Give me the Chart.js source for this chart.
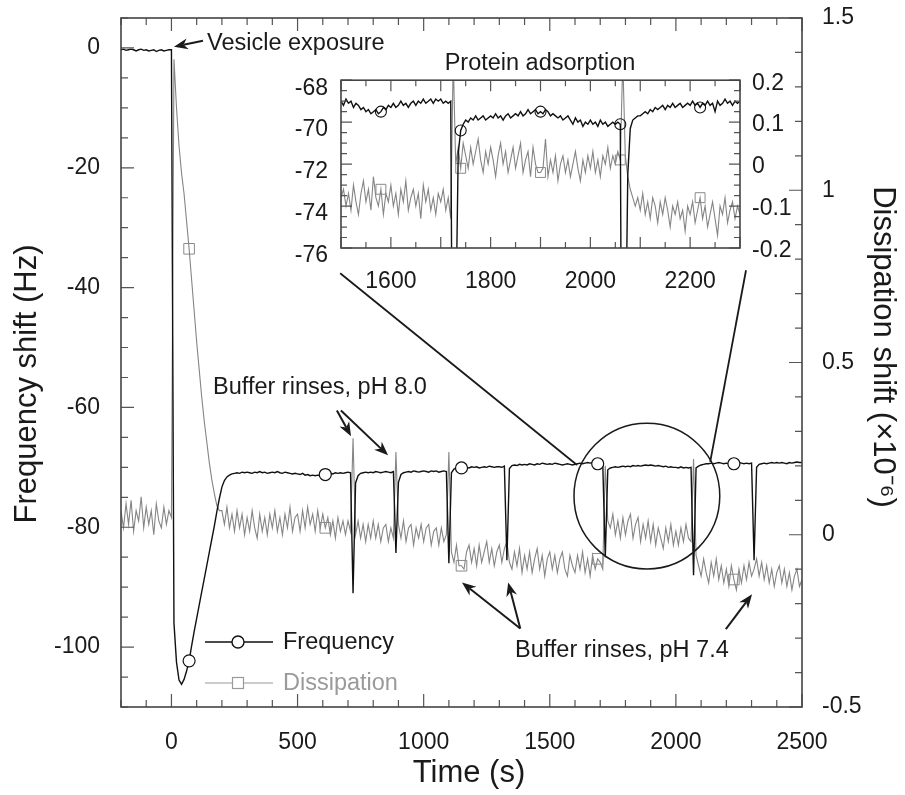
<!DOCTYPE html>
<html>
<head>
<meta charset="utf-8">
<title>QCM-D record</title>
<script src="https://cdn.jsdelivr.net/npm/chart.js@4.4.1/dist/chart.umd.min.js"></script>
<style>
  html, body { margin: 0; padding: 0; background: #fff; }
  #wrap { position: relative; width: 905px; height: 795px; }
  #mainChart { position: absolute; left: 0; top: 0; }
  #insetChart { position: absolute; left: 280px; top: 45px; }
</style>
</head>
<body>
<div id="wrap">
  <canvas id="mainChart" width="905" height="795"></canvas>
  <canvas id="insetChart" width="520" height="260"></canvas>
</div>
<script>
// sampling of the record (s)
var mainStart = -200, mainStep = 10;
var insetStart = 1500, insetStep = 5;

// frequency shift (Hz), one value every 10 s from -200 s
var mainFreq = [
  -0.3,-0.2,-0.4,-0.3,-0.2,-0.3,-0.5,-0.3,-0.2,-0.4,
  -0.3,-0.5,-0.4,-0.3,-0.6,-0.4,-0.3,-0.5,-0.4,-0.3,
  -0.3,-96,-102.5,-105.5,-106.2,-105.4,-104,-102.3,-99.8,-97.4,
  -95.2,-93,-90.8,-88.6,-86.4,-84.2,-82,-79.8,-77.4,-75.2,
  -73.3,-72.2,-71.6,-71.3,-71.1,-71.0,-70.9,-71.0,-70.8,-70.9,
  -70.8,-70.9,-71.0,-70.8,-70.9,-70.7,-70.9,-70.8,-71.0,-70.9,
  -70.8,-70.9,-70.7,-70.9,-71.0,-70.8,-70.9,-71.0,-71.1,-71.0,
  -71.1,-71.2,-71.0,-71.3,-71.2,-71.4,-71.3,-71.4,-71.3,-71.4,
  -71.3,-71.2,-71.1,-71.0,-71.1,-70.9,-71.0,-70.9,-71.0,-70.9,
  -70.8,-70.9,-91,-72.6,-71.4,-71.0,-70.9,-70.8,-70.9,-70.8,
  -70.9,-70.7,-70.8,-70.9,-70.8,-70.7,-70.8,-70.9,-70.7,-84.3,
  -72.5,-71.2,-70.9,-70.8,-70.7,-70.8,-70.6,-70.7,-70.8,-70.7,
  -70.6,-70.7,-70.8,-70.6,-70.7,-70.6,-70.8,-70.7,-70.6,-70.7,
  -86,-70.9,-70.3,-70.1,-70.0,-70.1,-69.9,-70.0,-70.1,-69.9,
  -70.0,-69.9,-70.1,-70.0,-69.9,-70.0,-69.8,-69.9,-70.0,-69.9,
  -69.9,-70.0,-69.8,-85.5,-70.2,-69.7,-69.6,-69.7,-69.5,-69.6,
  -69.5,-69.6,-69.4,-69.5,-69.6,-69.4,-69.5,-69.3,-69.4,-69.5,
  -69.4,-69.5,-69.3,-69.4,-69.5,-69.6,-69.5,-69.4,-69.5,-69.6,
  -69.5,-69.4,-69.3,-69.4,-69.3,-69.2,-69.3,-69.2,-69.3,-69.4,
  -69.2,-69.3,-85,-70.4,-70.1,-70.0,-69.9,-70.0,-69.9,-69.8,
  -69.9,-69.8,-69.9,-69.7,-69.8,-69.7,-69.8,-69.7,-69.6,-69.7,
  -69.6,-69.7,-69.8,-69.7,-69.8,-69.9,-69.8,-70.0,-69.9,-70.0,
  -70.0,-70.1,-69.9,-70.1,-70.0,-70.1,-70.0,-88,-70.1,-69.8,
  -69.6,-69.5,-69.4,-69.4,-69.3,-69.4,-69.3,-69.2,-69.3,-69.4,
  -69.3,-69.4,-69.3,-69.4,-69.3,-69.2,-69.3,-69.4,-69.3,-69.4,
  -69.3,-85.5,-70.0,-69.5,-69.4,-69.3,-69.4,-69.3,-69.2,-69.3,
  -69.2,-69.3,-69.2,-69.3,-69.4,-69.2,-69.3,-69.2,-69.1,-69.2,-69.2
];

// dissipation shift (x1e-6), same sampling
var mainDiss = [
  0.07,0.02,0.09,0.03,0.10,0.01,0.07,0.04,0.11,0.02,
  0.08,0.03,0.07,0.00,0.09,0.04,0.02,0.08,0.03,0.07,
  0.05,1.38,1.24,1.13,1.05,0.99,0.91,0.83,0.74,0.65,
  0.56,0.48,0.40,0.33,0.27,0.21,0.16,0.12,0.085,0.07,
  0.07,0.03,0.08,0.02,0.06,0.01,0.07,0.02,0.06,0.00,
  0.05,0.01,0.07,0.02,-0.01,0.06,0.01,0.05,0.00,0.06,
  0.02,0.07,0.01,0.05,0.00,0.06,0.02,0.08,0.01,0.05,
  0.06,0.01,0.07,0.02,0.08,0.03,0.06,0.01,0.07,0.02,
  0.06,0.02,0.05,0.00,0.04,-0.01,0.05,0.01,0.04,0.00,
  0.04,0.01,0.28,0.00,0.04,-0.01,0.03,-0.02,0.03,-0.01,
  0.04,-0.01,0.03,-0.02,0.02,0.03,-0.02,0.02,-0.01,0.24,
  0.03,-0.01,0.04,-0.02,0.02,0.03,-0.03,0.02,-0.01,0.03,
  -0.02,0.02,0.03,-0.03,0.01,0.02,-0.03,0.02,-0.02,0.00,
  0.24,-0.05,-0.08,-0.03,-0.09,-0.09,-0.10,-0.05,-0.03,-0.08,
  -0.04,-0.09,-0.03,-0.08,-0.05,-0.02,-0.08,-0.04,-0.09,-0.05,
  -0.03,-0.08,-0.04,-0.02,-0.08,-0.10,-0.05,-0.09,-0.04,-0.11,
  -0.06,-0.10,-0.05,-0.11,-0.07,-0.04,-0.10,-0.06,-0.12,-0.07,
  -0.05,-0.10,-0.06,-0.11,-0.07,-0.05,-0.10,-0.12,-0.06,-0.09,
  -0.11,-0.06,-0.10,-0.05,-0.11,-0.07,-0.12,-0.06,-0.10,-0.07,
  -0.08,-0.10,0.20,0.04,0.02,0.06,0.00,0.04,-0.01,0.05,
  0.00,0.04,0.06,-0.01,0.03,0.05,-0.02,0.03,-0.01,0.04,
  -0.02,0.03,-0.03,0.02,-0.01,-0.04,0.02,-0.02,0.03,-0.03,
  0.01,-0.03,0.02,-0.02,0.03,-0.01,-0.02,0.22,-0.06,-0.09,
  -0.12,-0.07,-0.11,-0.14,-0.08,-0.12,-0.07,-0.13,-0.09,-0.14,
  -0.10,-0.15,-0.09,-0.13,-0.16,-0.10,-0.14,-0.09,-0.13,-0.08,
  -0.12,-0.10,-0.07,-0.12,-0.08,-0.13,-0.09,-0.14,-0.10,-0.15,
  -0.11,-0.09,-0.14,-0.10,-0.15,-0.11,-0.16,-0.12,-0.10,-0.15,-0.13
];

// inset, one value every 5 s from 1500 s
var insetFreq = [
  -69.0,-69.2,-68.9,-69.1,-69.0,-69.3,-69.1,-69.2,-69.4,-69.3,
  -69.5,-69.4,-69.6,-69.5,-69.4,-69.6,-69.5,-69.3,-69.4,-69.2,
  -69.3,-69.1,-69.3,-69.2,-69.0,-69.2,-69.1,-69.3,-69.1,-69.0,
  -69.2,-69.0,-69.1,-68.9,-69.1,-69.0,-68.9,-69.1,-68.9,-69.0,
  -68.9,-69.1,-69.0,-69.1,-69.0,-90,-80,-71.5,-70.4,-70.1,
  -69.9,-70.0,-69.8,-69.9,-69.7,-69.9,-69.8,-69.7,-69.9,-69.8,
  -69.7,-69.8,-69.6,-69.8,-69.7,-69.9,-69.7,-69.6,-69.8,-69.7,
  -69.6,-69.7,-69.5,-69.7,-69.6,-69.4,-69.6,-69.5,-69.4,-69.6,
  -69.5,-69.6,-69.4,-69.5,-69.7,-69.6,-69.7,-69.8,-69.7,-69.9,
  -69.8,-69.7,-69.9,-70.1,-69.8,-70.0,-69.9,-70.2,-70.0,-70.1,
  -69.9,-70.1,-70.0,-70.2,-69.9,-70.1,-70.0,-70.2,-70.1,-70.0,
  -70.1,-70.0,-70.1,-95,-82,-72.5,-70.3,-69.9,-69.8,-69.7,
  -69.7,-69.6,-69.5,-69.6,-69.4,-69.5,-69.3,-69.4,-69.3,-69.2,
  -69.4,-69.2,-69.3,-69.1,-69.3,-69.2,-69.1,-69.3,-69.2,-69.1,
  -69.2,-69.0,-69.2,-69.1,-69.3,-69.1,-69.2,-69.0,-69.2,-69.1,
  -69.5,-69.0,-69.2,-69.1,-68.9,-69.1,-69.0,-69.2,-69.0,-69.1,
  -69.0
];

var insetDiss = [
  -0.08,-0.06,-0.10,-0.07,-0.11,-0.05,-0.09,-0.12,-0.07,-0.04,
  -0.09,-0.06,-0.11,-0.03,-0.08,-0.10,-0.06,-0.12,-0.07,-0.09,
  -0.05,-0.10,-0.07,-0.12,-0.06,-0.09,-0.04,-0.11,-0.08,-0.06,
  -0.10,-0.07,-0.13,-0.05,-0.09,-0.06,-0.11,-0.08,-0.12,-0.07,
  -0.09,-0.06,-0.11,-0.08,-0.13,0.25,0.00,0.04,-0.01,0.05,
  0.02,-0.01,0.04,0.00,0.03,0.06,0.01,-0.02,0.03,0.00,
  0.04,0.01,-0.03,0.02,0.05,0.00,0.03,-0.02,0.01,0.04,
  -0.01,0.02,0.05,-0.02,0.01,0.03,-0.03,0.04,0.00,-0.02,
  -0.02,-0.01,0.06,-0.03,0.01,-0.02,0.02,-0.04,0.00,0.02,
  -0.02,0.01,-0.03,0.00,0.03,-0.01,-0.04,0.01,-0.02,0.02,
  -0.01,0.03,-0.02,0.01,-0.03,0.02,0.00,0.04,-0.01,0.02,
  0.00,0.03,0.01,0.25,0.02,-0.03,-0.06,-0.08,-0.10,-0.08,
  -0.11,-0.07,-0.12,-0.09,-0.13,-0.08,-0.10,-0.14,-0.09,-0.12,
  -0.08,-0.11,-0.15,-0.10,-0.12,-0.09,-0.13,-0.11,-0.16,-0.10,
  -0.12,-0.09,-0.14,-0.11,-0.08,-0.13,-0.10,-0.15,-0.12,-0.09,
  -0.13,-0.17,-0.10,-0.12,-0.08,-0.14,-0.11,-0.09,-0.13,-0.10,
  -0.12
];

// samples that carry a symbol
var mainMarkers = [27, 81, 135, 189, 243];
var insetMarkers = [16, 48, 80, 112, 144];

// tick labels
var timeTicks = [0, 500, 1000, 1500, 2000, 2500];
var freqTicks = [-100, -80, -60, -40, -20, 0];
var dissTicks = [-0.5, 0, 0.5, 1, 1.5];
var insetTimeTicks = [1600, 1800, 2000, 2200];
var insetFreqTicks = [-76, -74, -72, -70, -68];
var insetDissTicks = [-0.2, -0.1, 0, 0.1, 0.2];

var FONT = "'Liberation Sans', Arial, Helvetica, sans-serif";
var INK = '#1a1a1a';
var FREQ_COLOR = '#111111';
var DISS_COLOR = '#858585';

function points(values, start, step) {
  return values.map(function (v, i) { return { x: start + i * step, y: v }; });
}

function fixedTicks(list) {
  return function (scale) {
    scale.ticks = list.map(function (v) { return { value: v }; });
  };
}

function axisOpts(o) {
  return {
    type: 'linear',
    position: o.position,
    min: o.min,
    max: o.max,
    grid: { display: false, drawTicks: false },
    border: { display: false },
    afterBuildTicks: fixedTicks(o.ticks),
    afterFit: function (s) {
      if (o.width) s.width = o.width;
      if (o.height) s.height = o.height;
      // fixed layout: no extra room for overhanging labels
      s.paddingTop = s.paddingBottom = s.paddingLeft = s.paddingRight = 0;
    },
    ticks: {
      padding: o.padding,
      labelOffset: o.labelOffset || 0,
      color: INK,
      autoSkip: false,
      maxRotation: 0,
      font: { family: FONT, size: 23 },
      callback: function (v) { return String(v); }
    }
  };
}

// frame plus inward tick marks on all four sides
function frameAndTicks(chart, spec, major, minor) {
  var ctx = chart.ctx, a = chart.chartArea, sc = chart.scales;
  ctx.save();
  ctx.strokeStyle = '#555';
  ctx.lineWidth = 1.2;
  ctx.beginPath();
  function each(scale, step, big, draw) {
    var k0 = Math.ceil(scale.min / step - 1e-9);
    for (var k = k0; k * step <= scale.max + 1e-9; k++) {
      var v = k * step;
      var isBig = Math.abs(v / big - Math.round(v / big)) < 1e-6;
      draw(scale.getPixelForValue(v), isBig ? major : minor);
    }
  }
  each(sc.x, spec.x[0], spec.x[1], function (p, l) {
    ctx.moveTo(p, a.bottom); ctx.lineTo(p, a.bottom - l);
    ctx.moveTo(p, a.top); ctx.lineTo(p, a.top + l);
  });
  each(sc.y, spec.y[0], spec.y[1], function (p, l) {
    ctx.moveTo(a.left, p); ctx.lineTo(a.left + l, p);
  });
  each(sc.y1, spec.y1[0], spec.y1[1], function (p, l) {
    ctx.moveTo(a.right, p); ctx.lineTo(a.right - l, p);
  });
  ctx.stroke();
  ctx.strokeStyle = '#444';
  ctx.lineWidth = 1.6;
  ctx.strokeRect(a.left, a.top, a.right - a.left, a.bottom - a.top);
  ctx.restore();
}

function arrow(ctx, x0, y0, x1, y1) {
  var ang = Math.atan2(y1 - y0, x1 - x0), L = 14, W = 5.5;
  var c = Math.cos(ang), s = Math.sin(ang);
  ctx.beginPath();
  ctx.moveTo(x0, y0);
  ctx.lineTo(x1 - c * L * 0.7, y1 - s * L * 0.7);
  ctx.stroke();
  ctx.beginPath();
  ctx.moveTo(x1, y1);
  ctx.lineTo(x1 - L * c + W * s, y1 - L * s - W * c);
  ctx.lineTo(x1 - L * 0.7 * c, y1 - L * 0.7 * s);
  ctx.lineTo(x1 - L * c - W * s, y1 - L * s + W * c);
  ctx.closePath();
  ctx.fill();
}

// annotation anchors in data units (time s, frequency Hz)
var notes = {
  texts: [
    { text: 'Vesicle exposure', t: 141, f: 0.8 },
    { text: 'Buffer rinses, pH 8.0', t: 165, f: -56.6 },
    { text: 'Buffer rinses, pH 7.4', t: 1362, f: -100.5 }
  ],
  arrows: [
    [125, 1.2, 10, 0.2],
    [656, -60.5, 712, -64.8],
    [672, -60.5, 859, -68],
    [1383, -96.9, 1152, -89.2],
    [1383, -96.9, 1335, -89.2],
    [2198, -97.0, 2302, -91.2]
  ],
  circle: { t: 1885, f: -74.8, rt: 289 },
  links: [
    [669, -37.6, 1608, -69.6],
    [2278, -37.1, 2136, -69.1]
  ]
};

var mainDecor = {
  id: 'mainDecor',
  afterDraw: function (chart) {
    var ctx = chart.ctx, x = chart.scales.x, y = chart.scales.y;
    frameAndTicks(chart, { x: [100, 500], y: [5, 20], y1: [0.1, 0.5] }, 13, 7);

    ctx.save();
    ctx.fillStyle = INK;
    ctx.strokeStyle = INK;

    // axis titles
    ctx.font = '31px ' + FONT;
    ctx.textAlign = 'center';
    ctx.textBaseline = 'middle';
    ctx.fillText('Time (s)', 469, 773);
    ctx.save();
    ctx.translate(27, 384);
    ctx.rotate(-Math.PI / 2);
    ctx.fillText('Frequency shift (Hz)', 0, 0);
    ctx.restore();
    ctx.save();
    ctx.translate(883, 347);
    ctx.rotate(Math.PI / 2);
    ctx.fillText('Dissipation shift (\u00d710\u207b\u2076)', 0, 0);
    ctx.restore();

    // annotation texts and arrows
    ctx.font = '23.5px ' + FONT;
    ctx.textAlign = 'left';
    notes.texts.forEach(function (n) {
      ctx.fillText(n.text, x.getPixelForValue(n.t), y.getPixelForValue(n.f));
    });
    ctx.lineWidth = 2;
    notes.arrows.forEach(function (r) {
      arrow(ctx, x.getPixelForValue(r[0]), y.getPixelForValue(r[1]),
        x.getPixelForValue(r[2]), y.getPixelForValue(r[3]));
    });

    // highlighted region and its links to the inset
    var c = notes.circle;
    var cx = x.getPixelForValue(c.t), cy = y.getPixelForValue(c.f);
    var rad = x.getPixelForValue(c.t + c.rt) - cx;
    ctx.lineWidth = 1.5;
    ctx.beginPath();
    ctx.arc(cx, cy, rad, 0, Math.PI * 2);
    ctx.stroke();
    ctx.lineWidth = 1.8;
    notes.links.forEach(function (r) {
      ctx.beginPath();
      ctx.moveTo(x.getPixelForValue(r[0]), y.getPixelForValue(r[1]));
      ctx.lineTo(x.getPixelForValue(r[2]), y.getPixelForValue(r[3]));
      ctx.stroke();
    });

    // legend
    var ds = chart.data.datasets;
    ctx.font = '23.5px ' + FONT;
    ctx.textBaseline = 'middle';
    ctx.lineWidth = 1.4;
    ctx.strokeStyle = FREQ_COLOR;
    ctx.beginPath(); ctx.moveTo(205, 642); ctx.lineTo(232, 642); ctx.moveTo(244, 642); ctx.lineTo(273, 642); ctx.stroke();
    ctx.beginPath(); ctx.arc(238, 642, 6, 0, Math.PI * 2); ctx.stroke();
    ctx.fillStyle = INK;
    ctx.fillText(ds[0].label, 283, 643);
    ctx.strokeStyle = '#9a9a9a';
    ctx.lineWidth = 1.2;
    ctx.beginPath(); ctx.moveTo(205, 683); ctx.lineTo(232, 683); ctx.moveTo(244, 683); ctx.lineTo(273, 683); ctx.stroke();
    ctx.strokeRect(232.5, 677.5, 11, 11);
    ctx.fillStyle = '#9a9a9a';
    ctx.fillText(ds[1].label, 283, 684);
    ctx.restore();
  }
};

var insetDecor = {
  id: 'insetDecor',
  afterDraw: function (chart) {
    frameAndTicks(chart, { x: [50, 100], y: [0.5, 2], y1: [0.025, 0.1] }, 11, 6);
  }
};

function markerRadius(list, r) {
  return function (ctx) { return list.indexOf(ctx.dataIndex) >= 0 ? r : 0; };
}

var mainChart = new Chart(document.getElementById('mainChart').getContext('2d'), {
  type: 'line',
  data: {
    datasets: [{
      label: 'Frequency',
      data: points(mainFreq, mainStart, mainStep),
      yAxisID: 'y',
      borderColor: FREQ_COLOR,
      borderWidth: 1.4,
      pointStyle: 'circle',
      pointRadius: markerRadius(mainMarkers, 6),
      pointBorderColor: FREQ_COLOR,
      pointBackgroundColor: '#fff',
      pointBorderWidth: 1.2
    }, {
      label: 'Dissipation',
      data: points(mainDiss, mainStart, mainStep),
      yAxisID: 'y1',
      borderColor: DISS_COLOR,
      borderWidth: 1.1,
      pointStyle: 'rect',
      pointRadius: markerRadius(mainMarkers, 7.5),
      pointBorderColor: '#8a8a8a',
      pointBackgroundColor: 'rgba(255,255,255,0)',
      pointBorderWidth: 1
    }]
  },
  options: {
    responsive: false,
    animation: false,
    events: [],
    layout: { padding: { top: 18, left: 0, right: 0, bottom: 0 } },
    plugins: { legend: { display: false }, tooltip: { enabled: false } },
    scales: {
      x: axisOpts({ position: 'bottom', min: -200, max: 2500, ticks: timeTicks, height: 88, padding: 22 }),
      y: axisOpts({ position: 'left', min: -110, max: 5, ticks: freqTicks, width: 121, padding: 21 }),
      y1: axisOpts({ position: 'right', min: -0.5, max: 1.5, ticks: dissTicks, width: 103, padding: 20 })
    }
  },
  plugins: [mainDecor]
});

var insetChart = new Chart(document.getElementById('insetChart').getContext('2d'), {
  type: 'line',
  data: {
    datasets: [{
      label: 'Frequency',
      data: points(insetFreq, insetStart, insetStep),
      yAxisID: 'y',
      borderColor: FREQ_COLOR,
      borderWidth: 1.4,
      pointStyle: 'circle',
      pointRadius: markerRadius(insetMarkers, 5.5),
      pointBorderColor: FREQ_COLOR,
      pointBackgroundColor: 'rgba(255,255,255,0)',
      pointBorderWidth: 1.1
    }, {
      label: 'Dissipation',
      data: points(insetDiss, insetStart, insetStep),
      yAxisID: 'y1',
      borderColor: DISS_COLOR,
      borderWidth: 1.1,
      pointStyle: 'rect',
      pointRadius: markerRadius(insetMarkers, 7),
      pointBorderColor: '#8a8a8a',
      pointBackgroundColor: 'rgba(255,255,255,0)',
      pointBorderWidth: 1
    }]
  },
  options: {
    responsive: false,
    animation: false,
    events: [],
    layout: { padding: 0 },
    plugins: {
      legend: { display: false },
      tooltip: { enabled: false },
      title: {
        display: true,
        text: 'Protein adsorption',
        color: INK,
        font: { family: FONT, size: 23.5, weight: 'normal' },
        padding: { top: 4, bottom: 3 }
      }
    },
    scales: {
      x: axisOpts({ position: 'bottom', min: 1500, max: 2300, ticks: insetTimeTicks, height: 57, padding: 20 }),
      y: axisOpts({ position: 'left', min: -76, max: -68, ticks: insetFreqTicks, width: 61, padding: 13, labelOffset: 8 }),
      y1: axisOpts({ position: 'right', min: -0.2, max: 0.2, ticks: insetDissTicks, width: 60, padding: 12, labelOffset: 3 })
    }
  },
  plugins: [insetDecor]
});
</script>
</body>
</html>
